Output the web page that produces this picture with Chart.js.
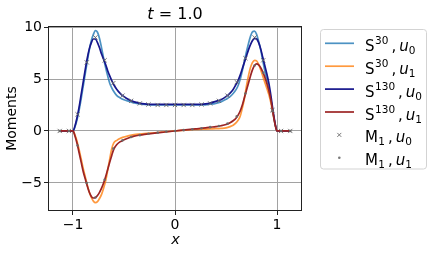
<!DOCTYPE html>
<html>
<head>
<meta charset="utf-8">
<script src="https://cdn.jsdelivr.net/npm/chart.js@4.4.1/dist/chart.umd.min.js"></script>
<style>
  html, body { margin: 0; padding: 0; background: #fff; }
  #wrap { width: 432px; height: 253px; }
</style>
</head>
<body>
<div id="wrap"><canvas id="moments" width="432" height="253"></canvas></div>
<script>
// x positions of the solver curves
const lineX = [-1.13, -1.05, -1.0, -0.98, -0.96, -0.94, -0.92, -0.90, -0.88, -0.86, -0.84, -0.82, -0.80, -0.78, -0.76, -0.74, -0.72, -0.70, -0.68, -0.66, -0.64, -0.62, -0.60,
  -0.57, -0.54, -0.50, -0.45, -0.40, -0.35, -0.30, -0.20, -0.10, 0,
  0.10, 0.20, 0.30, 0.35, 0.40, 0.45, 0.50, 0.54, 0.57,
  0.60, 0.62, 0.64, 0.66, 0.68, 0.70, 0.72, 0.74, 0.76, 0.78, 0.80, 0.82, 0.84, 0.86, 0.88, 0.90, 0.92, 0.94, 0.96, 0.98,
  1.0, 1.05, 1.13];

// S^30 , u0
const s30u0 = [0, 0, 0, 0.4, 1.1, 2.0, 3.1, 4.3, 5.5, 6.7, 7.8, 8.7, 9.3, 9.65, 9.5, 8.9, 8.0, 7.0, 6.1, 5.3, 4.6, 4.15, 3.8,
  3.4, 3.2, 3.0, 2.85, 2.7, 2.6, 2.55, 2.5, 2.5, 2.5,
  2.5, 2.5, 2.52, 2.57, 2.65, 2.8, 3.05, 3.3, 3.6,
  4.0, 4.4, 5.0, 5.8, 6.7, 7.6, 8.4, 9.1, 9.55, 9.6, 9.3, 8.6, 7.8, 6.8, 5.8, 4.9, 4.0, 3.0, 1.8, 0.7,
  0, 0, 0];

// S^30 , u1
const s30u1 = [0, 0, 0, -0.4, -1.0, -1.8, -2.7, -3.6, -4.4, -5.2, -5.9, -6.4, -6.75, -6.9, -6.8, -6.5, -6.1, -5.5, -4.8, -3.8, -2.7, -1.7, -1.15,
  -0.9, -0.72, -0.58, -0.45, -0.36, -0.3, -0.25, -0.17, -0.08, 0,
  0.08, 0.14, 0.18, 0.2, 0.22, 0.25, 0.3, 0.42, 0.55,
  0.8, 1.05, 1.45, 2.2, 3.1, 4.3, 5.3, 6.1, 6.6, 6.8, 6.75, 6.4, 5.9, 5.3, 4.7, 4.1, 3.5, 2.7, 1.7, 0.7,
  0, 0, 0];

// S^130 , u0
const s130u0 = [0, 0, 0, 0.5, 1.3, 2.3, 3.5, 4.7, 5.9, 7.0, 7.9, 8.5, 8.85, 8.85, 8.5, 8.0, 7.4, 6.9, 6.4, 5.8, 5.3, 4.85, 4.45,
  4.0, 3.65, 3.3, 3.0, 2.8, 2.68, 2.6, 2.55, 2.55, 2.55,
  2.55, 2.55, 2.6, 2.7, 2.85, 3.0, 3.3, 3.65, 4.0,
  4.5, 4.9, 5.4, 6.0, 6.6, 7.2, 7.8, 8.3, 8.7, 8.9, 8.85, 8.5, 7.9, 7.1, 6.3, 5.5, 4.6, 3.4, 2.0, 0.8,
  0, 0, 0];

// S^130 , u1
const s130u1 = [0, 0, 0, -0.5, -1.2, -2.1, -3.0, -3.9, -4.6, -5.3, -5.9, -6.3, -6.45, -6.4, -6.2, -5.9, -5.5, -5.0, -4.4, -3.7, -3.0, -2.35, -1.75,
  -1.3, -1.05, -0.85, -0.65, -0.5, -0.4, -0.32, -0.2, -0.1, 0,
  0.1, 0.2, 0.3, 0.36, 0.42, 0.5, 0.62, 0.8, 0.98,
  1.25, 1.55, 1.95, 2.5, 3.2, 3.9, 4.6, 5.3, 5.9, 6.3, 6.45, 6.35, 6.1, 5.7, 5.2, 4.6, 3.9, 3.0, 1.8, 0.7,
  0, 0, 0];

// M_1 reference (markers)
const markX = [-1.13, -1.04, -0.955, -0.865, -0.78, -0.69, -0.605, -0.515, -0.43, -0.345, -0.26, -0.17, -0.085, 0,
  0.085, 0.17, 0.26, 0.345, 0.43, 0.515, 0.605, 0.69, 0.78, 0.865, 0.955, 1.04, 1.13];
const m1u0 = [0, 0, 1.6, 6.6, 9.0, 6.8, 4.6, 3.4, 2.9, 2.65, 2.55, 2.5, 2.5, 2.5,
  2.5, 2.5, 2.55, 2.65, 2.9, 3.4, 4.7, 7.0, 9.0, 6.8, 2.0, 0, 0];
const m1u1 = [0, 0, -1.4, -5.0, -6.4, -4.7, -1.7, -0.9, -0.58, -0.4, -0.27, -0.16, -0.08, 0,
  0.08, 0.16, 0.26, 0.37, 0.48, 0.72, 1.4, 3.6, 6.3, 5.6, 1.9, 0, 0];

const xTicks = [-1, 0, 1];
const yTicks = [-5, 0, 5, 10];

// legend: base letter, superscript, subscript on base, subscript on u
const legendRows = [
  { base: 'S', sup: '30', baseSub: '', uSub: '0' },
  { base: 'S', sup: '30', baseSub: '', uSub: '1' },
  { base: 'S', sup: '130', baseSub: '', uSub: '0' },
  { base: 'S', sup: '130', baseSub: '', uSub: '1' },
  { base: 'M', sup: '', baseSub: '1', uSub: '0' },
  { base: 'M', sup: '', baseSub: '1', uSub: '1' }
];

const colors = {
  s30u0: 'rgba(31,119,180,0.8)',
  s30u1: 'rgba(255,127,14,0.8)',
  s130u0: '#16168c',
  s130u1: '#9c2424',
  marker: 'rgba(105,105,105,0.9)'
};

const pts = (xs, ys) => xs.map((x, i) => ({ x: x, y: ys[i] }));
const FONT = "'DejaVu Sans', sans-serif";

function lineSet(label, ys, color) {
  return {
    label: label,
    data: pts(lineX, ys),
    showLine: true,
    borderColor: color,
    borderWidth: 1.7,
    pointRadius: 0,
    cubicInterpolationMode: 'monotone',
    fill: false
  };
}

const datasets = [
  {
    label: 'M1 u0',
    data: pts(markX, m1u0),
    pointStyle: 'crossRot',
    pointRadius: 3,
    borderColor: colors.marker,
    borderWidth: 1,
    showLine: false
  },
  {
    label: 'M1 u1',
    data: pts(markX, m1u1),
    pointStyle: 'circle',
    pointRadius: 1.3,
    backgroundColor: colors.marker,
    borderWidth: 0,
    showLine: false
  },
  lineSet('S130 u1', s130u1, colors.s130u1),
  lineSet('S130 u0', s130u0, colors.s130u0),
  lineSet('S30 u1', s30u1, colors.s30u1),
  lineSet('S30 u0', s30u0, colors.s30u0)
];

const legendStyles = [
  { type: 'line', color: colors.s30u0 },
  { type: 'line', color: colors.s30u1 },
  { type: 'line', color: colors.s130u0 },
  { type: 'line', color: colors.s130u1 },
  { type: 'cross', color: colors.marker },
  { type: 'dot', color: colors.marker }
];

// title, axis labels, frame and legend drawn with canvas text
const decorations = {
  id: 'decorations',
  afterDraw(chart) {
    const ctx = chart.ctx;
    const a = chart.chartArea;
    ctx.save();

    // frame
    ctx.strokeStyle = '#222';
    ctx.lineWidth = 1;
    ctx.strokeRect(Math.round(a.left) + 0.5, Math.round(a.top) + 0.5,
      Math.round(a.right - a.left) - 1, Math.round(a.bottom - a.top) - 1);

    ctx.fillStyle = '#000';
    ctx.textBaseline = 'alphabetic';

    // title: t = 1.0
    const cx = (a.left + a.right) / 2;
    ctx.font = 'italic 16px ' + FONT;
    const wt = ctx.measureText('t').width;
    ctx.font = '16px ' + FONT;
    const wr = ctx.measureText(' = 1.0').width;
    let tx = cx - (wt + wr) / 2;
    ctx.font = 'italic 16px ' + FONT;
    ctx.fillText('t', tx, 18.5);
    ctx.font = '16px ' + FONT;
    ctx.fillText(' = 1.0', tx + wt, 18.5);

    // x label
    ctx.font = 'italic 14.5px ' + FONT;
    ctx.textAlign = 'center';
    ctx.fillText('x', cx + 0.5, 244);

    // y label
    ctx.save();
    ctx.translate(15.5, (a.top + a.bottom) / 2);
    ctx.rotate(-Math.PI / 2);
    ctx.font = '14px ' + FONT;
    ctx.fillText('Moments', 0, 0);
    ctx.restore();
    ctx.textAlign = 'left';

    // legend box
    const bx = 320.5, by = 29.5, bw = 106, bh = 139.5, r = 3;
    ctx.beginPath();
    ctx.moveTo(bx + r, by);
    ctx.arcTo(bx + bw, by, bx + bw, by + bh, r);
    ctx.arcTo(bx + bw, by + bh, bx, by + bh, r);
    ctx.arcTo(bx, by + bh, bx, by, r);
    ctx.arcTo(bx, by, bx + bw, by, r);
    ctx.closePath();
    ctx.fillStyle = 'rgba(255,255,255,0.8)';
    ctx.fill();
    ctx.strokeStyle = '#d3d3d3';
    ctx.stroke();

    legendRows.forEach((row, i) => {
      const yc = 43.3 + i * 22.9;
      const st = legendStyles[i];
      if (st.type === 'line') {
        ctx.strokeStyle = st.color;
        ctx.lineWidth = 1.7;
        ctx.beginPath();
        ctx.moveTo(325, yc);
        ctx.lineTo(354, yc);
        ctx.stroke();
      } else if (st.type === 'cross') {
        ctx.strokeStyle = st.color;
        ctx.lineWidth = 1;
        ctx.beginPath();
        ctx.moveTo(337.3, yc - 2); ctx.lineTo(341.3, yc + 2);
        ctx.moveTo(341.3, yc - 2); ctx.lineTo(337.3, yc + 2);
        ctx.stroke();
      } else {
        ctx.fillStyle = st.color;
        ctx.beginPath();
        ctx.arc(339.3, yc, 1.3, 0, Math.PI * 2);
        ctx.fill();
      }

      ctx.fillStyle = '#000';
      const base = yc + 7.5;
      let x = 365;
      ctx.font = '15px ' + FONT;
      ctx.fillText(row.base, x, base);
      x += ctx.measureText(row.base).width;
      ctx.font = '10.5px ' + FONT;
      if (row.sup) {
        ctx.fillText(row.sup, x + 0.5, base - 6.8);
        x += ctx.measureText(row.sup).width + 0.5;
      }
      if (row.baseSub) {
        ctx.fillText(row.baseSub, x + 0.3, base + 3);
        x += ctx.measureText(row.baseSub).width + 0.3;
      }
      ctx.font = '15px ' + FONT;
      x += 3;
      ctx.fillText(',', x, base);
      x += ctx.measureText(',').width + 3;
      ctx.font = 'italic 15px ' + FONT;
      ctx.fillText('u', x, base);
      x += ctx.measureText('u').width;
      ctx.font = '10.5px ' + FONT;
      ctx.fillText(row.uSub, x, base + 3);
    });

    ctx.restore();
  }
};

const minusify = v => String(v).replace('-', '\u2212');

new Chart(document.getElementById('moments').getContext('2d'), {
  type: 'scatter',
  data: { datasets: datasets },
  options: {
    responsive: false,
    animation: false,
    devicePixelRatio: 1,
    layout: { padding: { left: 0, top: 26, right: 130, bottom: 0 } },
    plugins: {
      legend: { display: false },
      title: { display: false },
      tooltip: { enabled: false }
    },
    scales: {
      x: {
        type: 'linear',
        min: -1.245,
        max: 1.245,
        afterBuildTicks: scale => { scale.ticks = xTicks.map(v => ({ value: v })); },
        afterFit: scale => { scale.height = 42; },
        ticks: {
          color: '#000',
          font: { family: FONT, size: 14 },
          padding: 2,
          maxRotation: 0,
          callback: minusify
        },
        grid: { color: '#a2a2a2', lineWidth: 1, tickLength: 4, tickColor: '#222' },
        border: { display: false }
      },
      y: {
        type: 'linear',
        min: -7.7,
        max: 10.1,
        afterBuildTicks: scale => { scale.ticks = yTicks.map(v => ({ value: v })); },
        afterFit: scale => { scale.width = 48; },
        ticks: {
          color: '#000',
          font: { family: FONT, size: 14 },
          padding: 2,
          callback: minusify
        },
        grid: { color: '#a2a2a2', lineWidth: 1, tickLength: 4, tickColor: '#222' },
        border: { display: false }
      }
    }
  },
  plugins: [decorations]
});
</script>
</body>
</html>
